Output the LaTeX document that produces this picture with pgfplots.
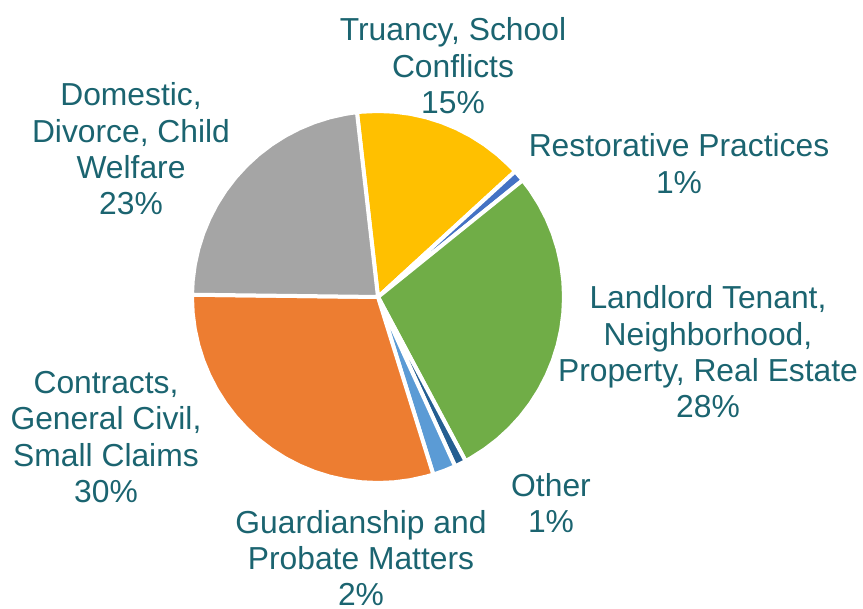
\documentclass[border=0pt]{standalone}
\usepackage{pgfplots}
\pgfplotsset{compat=1.18}
\usepackage{fontspec}
\setmainfont{Liberation Sans}

\definecolor{lbl}{HTML}{1B6470}
\definecolor{cyellow}{HTML}{FFC000}
\definecolor{cblue}{HTML}{4472C4}
\definecolor{cgreen}{HTML}{70AD47}
\definecolor{cdarkblue}{HTML}{255E91}
\definecolor{clightblue}{HTML}{5B9BD5}
\definecolor{corange}{HTML}{ED7D31}
\definecolor{cgrey}{HTML}{A5A5A5}

\tikzset{lab/.style={text=lbl, align=center, font=\fontsize{15.9}{18.2}\selectfont}}
\pgfplotsset{slice/.style={draw=white, line width=2pt, data cs=polar}}

\begin{document}
\begin{tikzpicture}
\begin{axis}[
    x=0.5pt, y=0.5pt,
    xmin=-378, xmax=485,
    ymin=-312, ymax=297,
    hide axis, clip=false,
    ]
    % slices: (angle in degrees, radius); 15,1,28,1,2,30,23 %
    % Truancy, School Conflicts 15%
    \addplot[slice, fill=cyellow] coordinates {(96.5,0) (96.5,186) (95,186) (90,186) (85,186) (80,186) (75,186) (70,186) (65,186) (60,186) (55,186) (50,186) (45,186) (42.5,186)} -- cycle;
    % Restorative Practices 1%
    \addplot[slice, fill=cblue] coordinates {(42.5,0) (42.5,186) (40,186) (38.9,186)} -- cycle;
    % Landlord Tenant 28%
    \addplot[slice, fill=cgreen] coordinates {(38.9,0) (38.9,186) (35,186) (30,186) (25,186) (20,186) (15,186) (10,186) (5,186) (0,186) (-5,186) (-10,186) (-15,186) (-20,186) (-25,186) (-30,186) (-35,186) (-40,186) (-45,186) (-50,186) (-55,186) (-60,186) (-61.9,186)} -- cycle;
    % Other 1%
    \addplot[slice, fill=cdarkblue] coordinates {(-61.9,0) (-61.9,186) (-63.7,186) (-65.5,186)} -- cycle;
    % Guardianship and Probate Matters 2%
    \addplot[slice, fill=clightblue] coordinates {(-65.5,0) (-65.5,186) (-69,186) (-72.7,186)} -- cycle;
    % Contracts, General Civil, Small Claims 30%
    \addplot[slice, fill=corange] coordinates {(-72.7,0) (-72.7,186) (-75,186) (-80,186) (-85,186) (-90,186) (-95,186) (-100,186) (-105,186) (-110,186) (-115,186) (-120,186) (-125,186) (-130,186) (-135,186) (-140,186) (-145,186) (-150,186) (-155,186) (-160,186) (-165,186) (-170,186) (-175,186) (-180,186) (-180.7,186)} -- cycle;
    % Domestic, Divorce, Child Welfare 23%
    \addplot[slice, fill=cgrey] coordinates {(-180.7,0) (-180.7,186) (-185,186) (-190,186) (-195,186) (-200,186) (-205,186) (-210,186) (-215,186) (-220,186) (-225,186) (-230,186) (-235,186) (-240,186) (-245,186) (-250,186) (-255,186) (-260,186) (-263.5,186)} -- cycle;

    \node[lab] at (axis cs:75,231) {Truancy, School\\Conflicts\\15\%};
    \node[lab] at (axis cs:301,133.5) {Restorative Practices\\1\%};
    \node[lab] at (axis cs:330,-55) {Landlord Tenant,\\Neighborhood,\\Property, Real Estate\\28\%};
    \node[lab] at (axis cs:173,-206) {Other\\1\%};
    \node[lab] at (axis cs:-17,-261) {Guardianship and\\Probate Matters\\2\%};
    \node[lab] at (axis cs:-272,-140) {Contracts,\\General Civil,\\Small Claims\\30\%};
    \node[lab] at (axis cs:-247,148) {Domestic,\\Divorce, Child\\Welfare\\23\%};

    \coordinate (bl) at (axis cs:-378,-312);
    \coordinate (tr) at (axis cs:485,297);
\end{axis}
\pgfresetboundingbox
\path (bl) rectangle (tr);
\end{tikzpicture}
\end{document}
